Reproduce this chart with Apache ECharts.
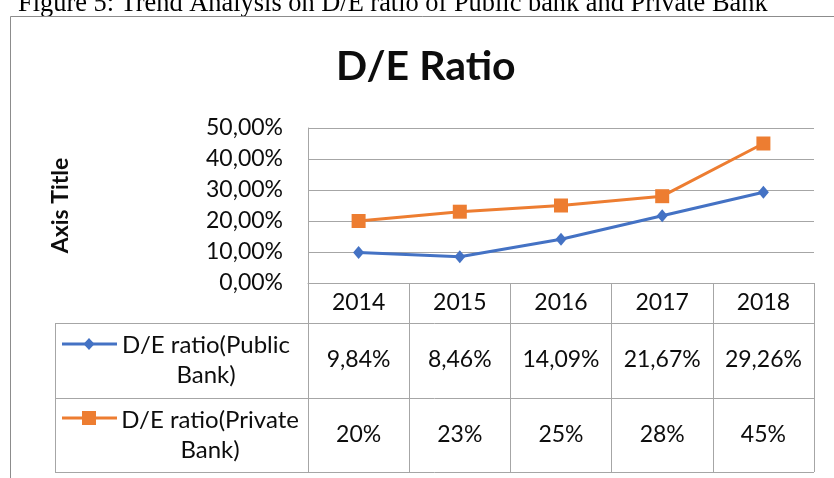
<!DOCTYPE html>
<html>
<head>
<meta charset="utf-8">
<title>D/E Ratio</title>
<script src="https://cdn.jsdelivr.net/npm/echarts@6/dist/echarts.min.js"></script>
<style>
  html, body { margin: 0; padding: 0; background: #ffffff; }
  #chart { width: 834px; height: 478px; }
</style>
</head>
<body>
<div id="chart"></div>
<script>
// Years along the category axis
const years = ['2014', '2015', '2016', '2017', '2018'];
// Debt/equity ratio, in percent
const publicBank = [9.84, 8.46, 14.09, 21.67, 29.26];
const privateBank = [20, 23, 25, 28, 45];
const seriesNames = ['D/E ratio(Public Bank)', 'D/E ratio(Private Bank)'];
const caption = 'Figure 5: Trend Analysis on D/E ratio of Public bank and Private Bank';

const FONT = 'Lato';
const BLUE = '#4472C4';
const ORANGE = '#ED7D31';
const GRID = '#A6A6A6';
const TEXT = '#0d0d0d';

const fmtTwo = v => v.toFixed(2).replace('.', ',') + '%';
const fmtInt = v => Math.round(v) + '%';
const wrapName = n => n.replace(' Bank)', '\nBank)');

const chart = echarts.init(document.getElementById('chart'));

// plot and data-table geometry
const G = { left: 308, right: 20, top: 128, height: 155 };
const tableTop = 283, row1 = 323, row2 = 398, tableBottom = 472, keyLeft = 55;
const plotRight = 834 - G.right;

function categoryAxis(labels, margin, extra) {
  return Object.assign({
    type: 'category',
    data: years,
    position: 'bottom',
    boundaryGap: true,
    axisLine: { show: false },
    axisTick: { show: false },
    splitLine: { show: false },
    axisLabel: {
      interval: 0,
      margin: margin,
      fontFamily: FONT,
      fontSize: 23,
      color: TEXT,
      formatter: (v, i) => labels[i]
    }
  }, extra || {});
}

const option = {
  backgroundColor: '#ffffff',
  animation: false,
  title: {
    text: 'D/E Ratio',
    left: 331,
    top: 41,
    textStyle: { fontFamily: FONT, fontWeight: 'bold', fontSize: 41, color: TEXT }
  },
  grid: { left: G.left, right: G.right, top: G.top, height: G.height, containLabel: false },
  xAxis: [
    categoryAxis(years, 8, {
      axisLine: { show: true, lineStyle: { color: GRID, width: 1 } },
      axisTick: { show: true, length: tableBottom - tableTop, lineStyle: { color: GRID, width: 1 } }
    }),
    categoryAxis(publicBank.map(fmtTwo), 65),
    categoryAxis(privateBank.map(fmtInt), 140)
  ],
  yAxis: {
    type: 'value',
    min: 0,
    max: 50,
    interval: 10,
    name: 'Axis Title',
    nameLocation: 'middle',
    nameGap: 236,
    nameRotate: 90,
    nameTextStyle: { fontFamily: FONT, fontWeight: 'bold', fontSize: 23, color: TEXT },
    axisLine: { show: true, lineStyle: { color: GRID, width: 1 } },
    axisTick: { show: false },
    splitLine: { show: true, lineStyle: { color: GRID, width: 1 } },
    axisLabel: {
      margin: 25,
      fontFamily: FONT,
      fontSize: 23,
      color: TEXT,
      formatter: fmtTwo
    }
  },
  series: [
    {
      name: seriesNames[0],
      type: 'line',
      data: publicBank,
      symbol: 'diamond',
      symbolSize: [11, 13],
      lineStyle: { color: BLUE, width: 3 },
      itemStyle: { color: BLUE },
      z: 3
    },
    {
      name: seriesNames[1],
      type: 'line',
      data: privateBank,
      symbol: 'rect',
      symbolSize: 14,
      lineStyle: { color: ORANGE, width: 3 },
      itemStyle: { color: ORANGE },
      z: 3
    }
  ],
  graphic: [
    // figure caption above the chart frame
    {
      type: 'text', left: 18, top: -9,
      style: { text: caption, font: '26.4px "Liberation Serif"', fill: '#000' }
    },
    // chart frame
    {
      type: 'rect', shape: { x: 10.5, y: 16.5, width: 900, height: 520 },
      style: { fill: 'none', stroke: '#8C8C8C', lineWidth: 1 }, silent: true
    },
    // data table rules
    { type: 'line', shape: { x1: keyLeft, y1: row1 + 0.5, x2: plotRight, y2: row1 + 0.5 }, style: { stroke: GRID, lineWidth: 1 } },
    { type: 'line', shape: { x1: keyLeft, y1: row2 + 0.5, x2: plotRight, y2: row2 + 0.5 }, style: { stroke: GRID, lineWidth: 1 } },
    { type: 'line', shape: { x1: keyLeft, y1: tableBottom + 0.5, x2: plotRight, y2: tableBottom + 0.5 }, style: { stroke: GRID, lineWidth: 1 } },
    { type: 'line', shape: { x1: keyLeft + 0.5, y1: row1, x2: keyLeft + 0.5, y2: tableBottom }, style: { stroke: GRID, lineWidth: 1 } },
    // legend keys
    { type: 'line', shape: { x1: 62, y1: 344, x2: 117, y2: 344 }, style: { stroke: BLUE, lineWidth: 3 } },
    { type: 'polygon', shape: { points: [[89, 338], [94.5, 344], [89, 350], [83.5, 344]] }, style: { fill: BLUE } },
    { type: 'line', shape: { x1: 62, y1: 418, x2: 117, y2: 418 }, style: { stroke: ORANGE, lineWidth: 3 } },
    { type: 'rect', shape: { x: 82, y: 411, width: 14, height: 14 }, style: { fill: ORANGE } },
    // legend key labels
    {
      type: 'text', x: 206, y: (row1 + row2) / 2,
      style: { text: wrapName(seriesNames[0]), font: '24px Lato', fill: TEXT, align: 'center', verticalAlign: 'middle', lineHeight: 30 }
    },
    {
      type: 'text', x: 210, y: (row2 + tableBottom) / 2,
      style: { text: wrapName(seriesNames[1]), font: '24px Lato', fill: TEXT, align: 'center', verticalAlign: 'middle', lineHeight: 30 }
    }
  ]
};

chart.setOption(option);
</script>
</body>
</html>
